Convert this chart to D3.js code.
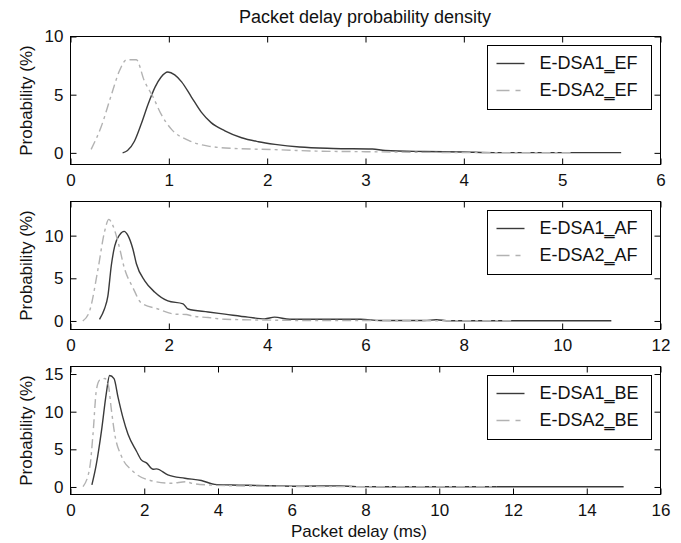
<!DOCTYPE html>
<html>
<head>
<meta charset="utf-8">
<script src="https://cdn.jsdelivr.net/npm/d3@7"></script>
<style>
html,body{margin:0;padding:0;background:#fff;}
svg{display:block;font-family:"Liberation Sans",Arial,Helvetica,sans-serif;}
</style>
</head>
<body>
<svg id="chart" width="681" height="543"></svg>
<script>
// ---- data ----
const titleText = "Packet delay probability density";
const xLabelText = "Packet delay (ms)";
const yLabelText = "Probability (%)";
const classes = ["EF", "AF", "BE"];
const seriesNames = ["E-DSA1", "E-DSA2"];
const nameSep = "\u2017";

const xTicksEF = [0,1,2,3,4,5,6];
const xTicksAF = [0,2,4,6,8,10,12];
const xTicksBE = [0,2,4,6,8,10,12,14,16];
const yTicksEF = [0,5,10];
const yTicksAF = [0,5,10];
const yTicksBE = [0,5,10,15];

const ef1X = [0.53,0.58,0.65,0.72,0.79,0.86,0.92,0.99,1.06,1.13,1.23,1.33,1.43,1.57,1.74,1.91,2.08,2.33,2.67,3.07,3.2,3.6,4.0,4.3,5.0,5.6];
const ef1Y = [0,0.2,1.0,2.5,4.2,5.65,6.5,6.95,6.7,6.1,4.8,3.5,2.6,1.9,1.3,0.96,0.73,0.5,0.38,0.33,0.2,0.12,0.08,0.02,0.02,0.02];
const ef2X = [0.21,0.31,0.42,0.5,0.57,0.67,0.75,0.84,0.92,1.03,1.2,1.4,1.67,2.08,2.5,3.0,3.5,4.0,4.5,5.1];
const ef2Y = [0.3,2.2,5.1,7.1,8.0,8.0,6.2,4.8,3.35,2.0,1.07,0.58,0.38,0.28,0.15,0.1,0.05,0.03,0.02,0.02];

const af1X = [0.59,0.69,0.76,0.83,0.9,1.0,1.09,1.17,1.27,1.34,1.51,1.71,1.98,2.29,2.39,2.8,3.14,3.61,3.95,4.15,4.46,5.0,5.4,5.9,6.3,7.2,7.44,7.7,9.0,11.0];
const af1Y = [0.2,1.4,2.9,6.5,8.8,10.1,10.5,10.0,8.4,6.7,4.7,3.4,2.35,2.0,1.4,1.05,0.8,0.45,0.25,0.45,0.2,0.2,0.2,0.2,0.05,0.05,0.15,0.03,0.02,0.02];
const af2X = [0.25,0.39,0.56,0.69,0.78,0.86,0.97,1.1,1.27,1.44,1.78,2.12,2.36,2.46,2.8,3.14,3.5,4.0,5.0,6.0,7.0,8.0,9.0];
const af2Y = [0,1.2,6.1,10.4,11.9,11.2,9.2,6.1,3.9,2.1,1.4,0.8,0.75,0.6,0.4,0.2,0.15,0.1,0.05,0.05,0.02,0.02,0.02];

const be1X = [0.58,0.7,0.84,0.97,1.06,1.18,1.29,1.42,1.56,1.79,1.92,2.06,2.24,2.33,2.64,3.1,3.55,3.91,4.36,5.08,6.2,7.3,7.75,9.0,12.0,15.0];
const be1Y = [0.27,3.0,7.45,12.4,14.8,14.4,11.9,9.25,7.0,4.75,3.6,3.2,2.35,2.4,1.6,1.15,0.86,0.35,0.27,0.2,0.1,0.15,0.05,0.03,0.02,0.02];
const be2X = [0.34,0.52,0.61,0.7,0.79,0.93,1.02,1.11,1.2,1.38,1.69,2.1,2.73,3.14,3.28,3.73,4.5,5.5,7.0,8.5,10.0,11.55];
const be2Y = [0.05,2.5,7.0,12.8,14.2,14.4,13.7,10.2,7.0,4.1,2.1,0.95,0.5,0.7,0.5,0.27,0.15,0.1,0.05,0.05,0.05,0.03];

// ---- layout ----
const svg = d3.select("#chart");
const left = 70.5, right = 660.5;
const panels = [
  {cls:"EF", top:36.5, bottom:164.5, xDom:[0,6],  yDom:[-1,10], xT:xTicksEF, yT:yTicksEF, s1:[ef1X,ef1Y], s2:[ef2X,ef2Y]},
  {cls:"AF", top:201.5, bottom:329.5, xDom:[0,12], yDom:[-1,14], xT:xTicksAF, yT:yTicksAF, s1:[af1X,af1Y], s2:[af2X,af2Y]},
  {cls:"BE", top:366.5, bottom:494.5, xDom:[0,16], yDom:[-1,16], xT:xTicksBE, yT:yTicksBE, s1:[be1X,be1Y], s2:[be2X,be2Y]}
];
const solidColor = "#3a3a3a", dashColor = "#b2b2b2";
const dashPattern = "9,4,3,4";

svg.append("text").attr("x", 365).attr("y", 23).attr("text-anchor","middle")
  .attr("font-size", 18).attr("fill","#111").text(titleText);

panels.forEach(p => {
  const x = d3.scaleLinear().domain(p.xDom).range([left, right]);
  const y = d3.scaleLinear().domain(p.yDom).range([p.bottom, p.top]);
  const g = svg.append("g");

  const line = d3.line().x(d => x(d[0])).y(d => y(d[1])).curve(d3.curveMonotoneX);
  const pts1 = p.s1[0].map((v,i) => [v, p.s1[1][i]]);
  const pts2 = p.s2[0].map((v,i) => [v, p.s2[1][i]]);
  g.append("path").attr("d", line(pts1)).attr("fill","none")
    .attr("stroke", solidColor).attr("stroke-width", 1.4);
  g.append("path").attr("d", line(pts2)).attr("fill","none")
    .attr("stroke", dashColor).attr("stroke-width", 1.4).attr("stroke-dasharray", dashPattern);

  // axes
  const styleAxis = sel => {
    sel.select(".domain").remove();
    sel.selectAll(".tick line").attr("stroke","#000");
    sel.selectAll(".tick text").attr("fill","#111").attr("font-size",17)
      .attr("font-family",'"Liberation Sans",Arial,Helvetica,sans-serif');
  };
  g.append("g").attr("transform",`translate(0,${p.bottom})`)
    .call(d3.axisBottom(x).tickValues(p.xT).tickSize(-6).tickPadding(9.5).tickFormat(d3.format("d")))
    .call(styleAxis);
  g.append("g").attr("transform",`translate(0,${p.top})`)
    .call(d3.axisTop(x).tickValues(p.xT).tickSize(-6).tickFormat(""))
    .call(styleAxis);
  g.append("g").attr("transform",`translate(${left},0)`)
    .call(d3.axisLeft(y).tickValues(p.yT).tickSize(-6).tickPadding(7).tickFormat(d3.format("d")))
    .call(styleAxis);
  g.append("g").attr("transform",`translate(${right},0)`)
    .call(d3.axisRight(y).tickValues(p.yT).tickSize(-6).tickFormat(""))
    .call(styleAxis);

  g.append("rect").attr("x", left).attr("y", p.top).attr("width", right-left)
    .attr("height", p.bottom-p.top).attr("fill","none").attr("stroke","#000").attr("stroke-width",1);

  // y label
  g.append("text").attr("transform",`translate(32,${(p.top+p.bottom)/2}) rotate(-90)`)
    .attr("text-anchor","middle").attr("font-size",17).attr("fill","#111").text(yLabelText);

  // legend
  const lx = right - 9 - 164, ly = p.top + 9, lw = 164, lh = 64;
  const lg = g.append("g");
  lg.append("rect").attr("x", lx).attr("y", ly).attr("width", lw).attr("height", lh)
    .attr("fill","#fff").attr("stroke","#000").attr("stroke-width",1);
  seriesNames.forEach((nm, i) => {
    const ry = ly + 18 + i*27;
    lg.append("line").attr("x1", lx+9).attr("x2", lx+37).attr("y1", ry).attr("y2", ry)
      .attr("stroke", i===0 ? solidColor : dashColor).attr("stroke-width",1.4)
      .attr("stroke-dasharray", i===0 ? null : "13,6,5,6");
    lg.append("text").attr("x", lx+52).attr("y", ry+5.5).attr("font-size",18).attr("fill","#111")
      .text(nm + nameSep + p.cls);
  });
});

svg.append("text").attr("x", 359).attr("y", 537).attr("text-anchor","middle")
  .attr("font-size", 17).attr("fill","#111").text(xLabelText);
</script>
</body>
</html>
